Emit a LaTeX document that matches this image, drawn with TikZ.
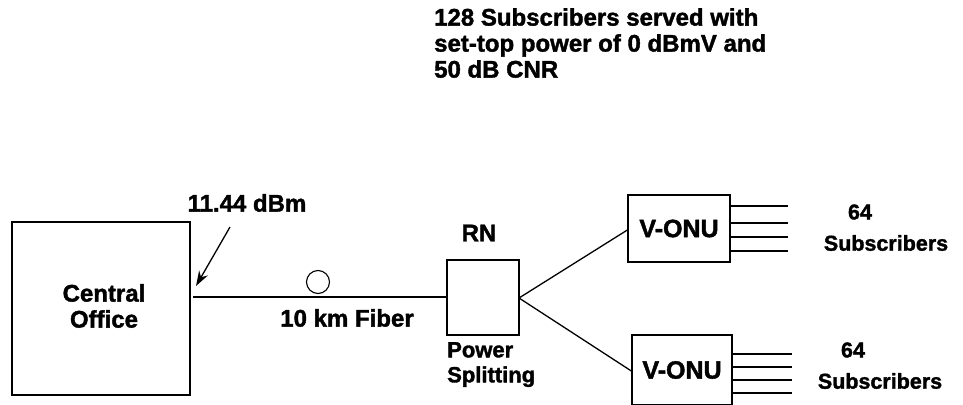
\documentclass[tikz,border=0pt]{standalone}
\usepackage{fontspec}
\setmainfont{Liberation Sans}[BoldFeatures={FakeBold=1.6}]
\usetikzlibrary{arrows.meta}
\begin{document}
\begin{tikzpicture}[x=1pt,y=-1pt,
  every node/.style={font=\fontsize{24}{26}\selectfont\bfseries, inner sep=0pt},
  small/.style={font=\fontsize{21.5}{25}\selectfont\bfseries},
  box/.style={draw, line width=1.3pt},
  wire/.style={line width=1.3pt},
  lbl/.style={align=left}]
\useasboundingbox (0,0) rectangle (963,404);
\clip (0,0) rectangle (963,404);
% boxes
\node[box, minimum width=178pt, minimum height=173pt] (co) at (101,308.5) {};
\node (cot) at (104,306) [align=center] {Central\\Office};
\node[box, minimum width=72pt, minimum height=75pt] (rn) at (483,297.5) {};
\node[box, minimum width=102pt, minimum height=67pt, font=\fontsize{25}{26}\selectfont\bfseries] (v1) at (679,228.5) {V-ONU};
\node[box, minimum width=100pt, minimum height=70pt, font=\fontsize{25}{26}\selectfont\bfseries] (v2) at (682,370) {V-ONU};
% fiber
\coordinate (coin) at (193,297);
\draw[wire] (coin) -- (rn.west |- coin);
\node[draw, circle, line width=1.1pt, minimum size=23pt] (loop) at (318,282) {};
\node (fib) at (347,318) {10 km Fiber};
% labels
\node (dbm) at (247,203) {11.44 dBm};
\coordinate (arrs) at (230,227);
\coordinate (arre) at (196,286);
\draw[wire, -{Stealth[length=15pt,width=10pt]}] (arrs) -- (arre);
\node (rnl) at (479,233) {RN};
\node[lbl, anchor=north west, font=\fontsize{22}{25}\selectfont\bfseries] (ps) at (447,342) {Power\\Splitting};
% split
\coordinate (sp) at (519,298);
\draw[wire] (sp) -- (v1.west |- 0,230);
\draw[wire] (sp) -- (v2.west |- 0,371);
% subscriber lines
\foreach \y in {206,223,237,251} \draw[wire] (v1.east |- 0,\y) -- (788,\y);
\foreach \y in {354,367,380,393} \draw[wire] (v2.east |- 0,\y) -- (792,\y);
\node[small] (n1) at (860,212) {64};
\node[small] (s1) at (886,243) {Subscribers};
\node[small] (n2) at (853,350) {64};
\node[small] (s2) at (880,381) {Subscribers};
% top text
\node[lbl, anchor=north west] (top) at (434,8) {128 Subscribers served with\\set-top power of 0 dBmV and\\50 dB CNR};
\end{tikzpicture}
\end{document}
